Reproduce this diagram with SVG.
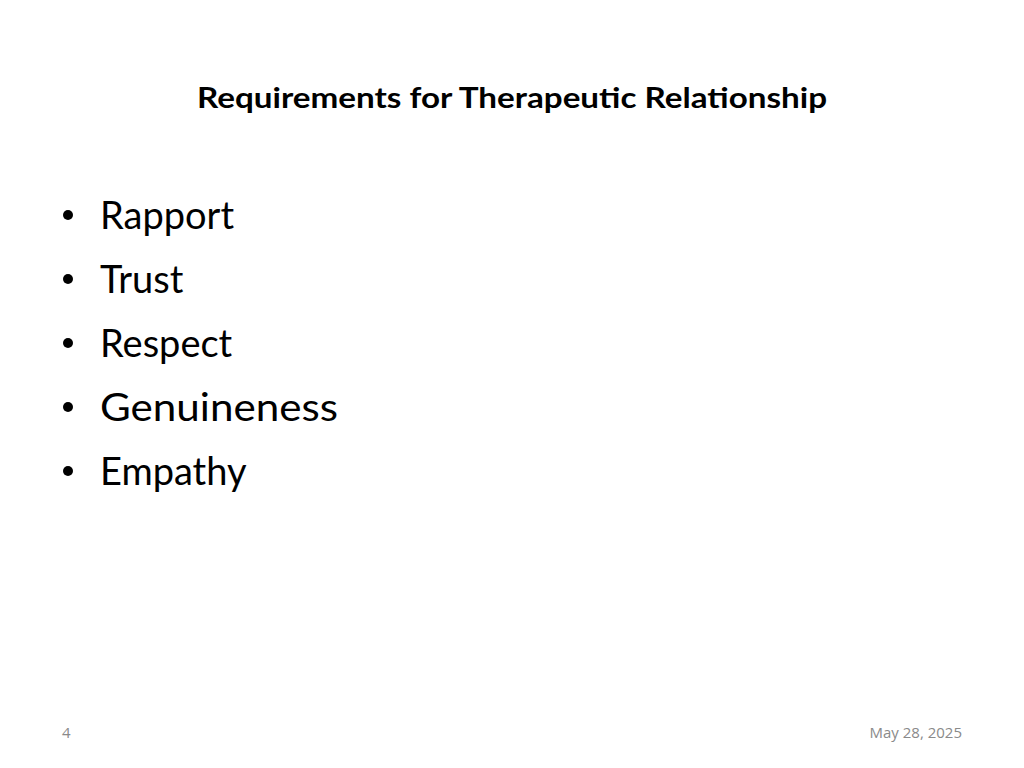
<svg xmlns="http://www.w3.org/2000/svg" width="1024" height="768" viewBox="0 0 1024 768">
<style>
.t{font-family:Lato,"Liberation Sans",sans-serif;fill:#000}
.b{font-family:Lato,"Liberation Sans",sans-serif;font-size:38px;fill:#000}
.f{font-family:"Open Sans","Liberation Sans",sans-serif;font-size:15px;fill:#8a8a8a}
</style>
<rect width="1024" height="768" fill="#fff"/>
<g id="title"><text class="t" x="512" y="108" font-size="28" font-weight="bold" text-anchor="middle" textLength="630" lengthAdjust="spacingAndGlyphs">Requirements for Therapeutic Relationship</text></g>
<g id="bullets">
<circle cx="68" cy="215" r="5"/><text class="b" x="100" y="229">Rapport</text>
<circle cx="68" cy="279" r="5"/><text class="b" x="100" y="293">Trust</text>
<circle cx="68" cy="343" r="5"/><text class="b" x="100" y="357">Respect</text>
<circle cx="68" cy="407" r="5"/><text class="b" x="100" y="421" textLength="238" lengthAdjust="spacingAndGlyphs">Genuineness</text>
<circle cx="68" cy="471" r="5"/><text class="b" x="100" y="485">Empathy</text>
</g>
<g id="footer">
<text class="f" x="62" y="738">4</text>
<text class="f" x="962" y="738" text-anchor="end">May 28, 2025</text>
</g>
</svg>
